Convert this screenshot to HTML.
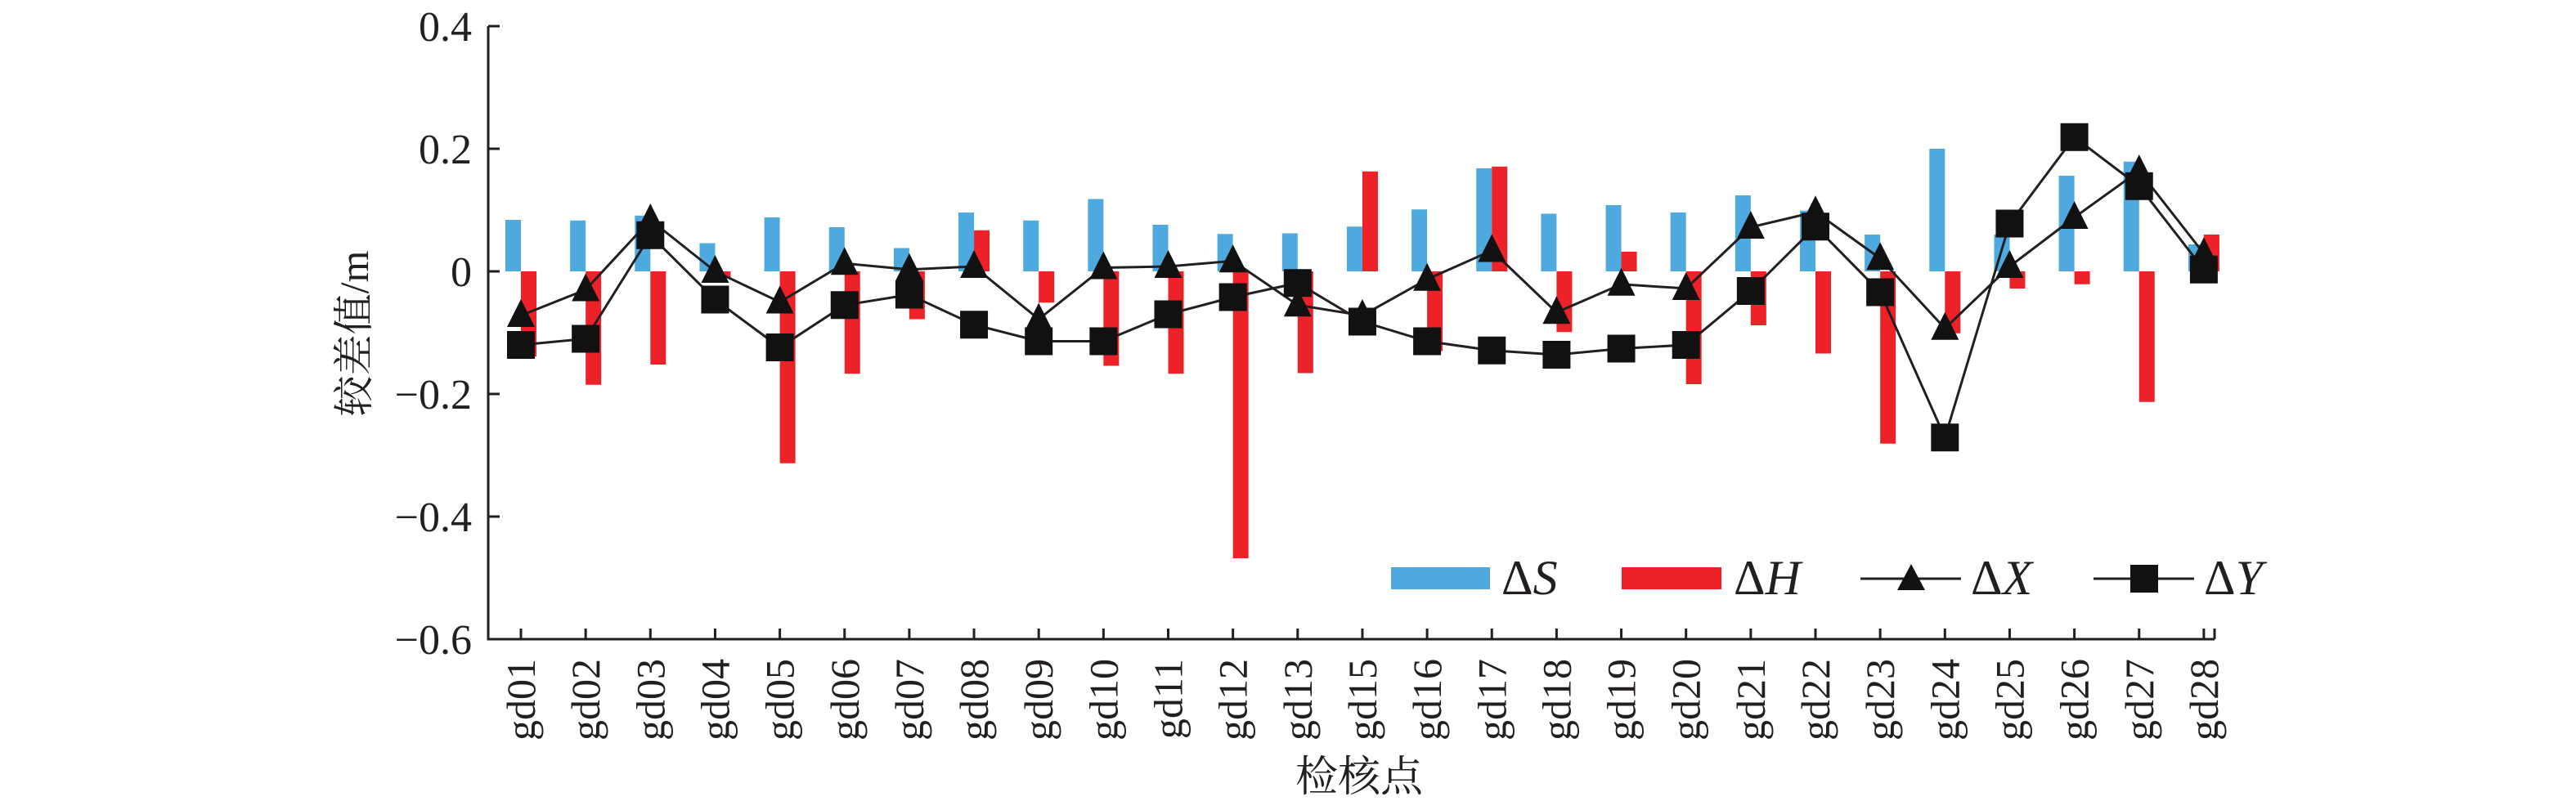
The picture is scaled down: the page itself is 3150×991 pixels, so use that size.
<!DOCTYPE html>
<html><head><meta charset="utf-8"><style>
html,body{margin:0;padding:0;background:#fff;}
svg{display:block;}
text{font-family:"Liberation Serif","Noto Serif CJK SC",serif;fill:#231f20;}
</style></head><body>
<svg id="chart" width="3150" height="991" viewBox="0 0 3150 991" xmlns="http://www.w3.org/2000/svg">
<g id="bars"></g>
<g id="lines"></g>
<g id="axes"></g>
<g id="legend">
  <rect x="1701" y="694" width="121" height="27" fill="#4ea9df"/>
  <text x="1836" y="727" font-size="60">Δ<tspan font-style="italic">S</tspan></text>
  <rect x="1983" y="694" width="122" height="27" fill="#ed2229"/>
  <text x="2120" y="727" font-size="60">Δ<tspan font-style="italic">H</tspan></text>
  <line x1="2275" y1="708" x2="2398" y2="708" stroke="#231f20" stroke-width="3"/>
  <polygon points="2337,690 2320,722 2354,722" fill="#111"/>
  <text x="2410" y="727" font-size="60">Δ<tspan font-style="italic">X</tspan></text>
  <line x1="2560" y1="708" x2="2683" y2="708" stroke="#231f20" stroke-width="3"/>
  <rect x="2605" y="691" width="34" height="34" fill="#111"/>
  <text x="2695" y="727" font-size="60">Δ<tspan font-style="italic">Y</tspan></text>
</g>
<text transform="translate(450,408) rotate(-90)" text-anchor="middle" font-size="50">较差值/m</text>
<text x="1662" y="968" text-anchor="middle" font-size="52">检核点</text>
</svg>
<script>
const categories = ["gd01","gd02","gd03","gd04","gd05","gd06","gd07","gd08","gd09","gd10","gd11","gd12","gd13","gd15","gd16","gd17","gd18","gd19","gd20","gd21","gd22","gd23","gd24","gd25","gd26","gd27","gd28"];
const dS = [0.084,0.083,0.091,0.046,0.088,0.072,0.038,0.096,0.083,0.118,0.076,0.061,0.062,0.073,0.101,0.168,0.094,0.108,0.096,0.124,0.099,0.060,0.200,0.060,0.156,0.179,0.044];
const dH = [-0.139,-0.185,-0.152,-0.010,-0.313,-0.167,-0.078,0.067,-0.051,-0.154,-0.167,-0.468,-0.166,0.163,-0.130,0.171,-0.099,0.032,-0.184,-0.088,-0.134,-0.281,-0.101,-0.028,-0.021,-0.213,0.060];
const dX = [-0.072,-0.030,0.084,0.000,-0.050,0.013,0.003,0.008,-0.078,0.006,0.008,0.017,-0.055,-0.072,-0.013,0.034,-0.067,-0.021,-0.028,0.072,0.097,0.021,-0.093,0.008,0.088,0.164,0.029];
const dY = [-0.120,-0.110,0.059,-0.046,-0.124,-0.055,-0.038,-0.087,-0.114,-0.114,-0.070,-0.042,-0.019,-0.082,-0.114,-0.129,-0.136,-0.126,-0.120,-0.032,0.073,-0.034,-0.271,0.078,0.219,0.139,0.003];
const yTicks = [0.4,0.2,0,-0.2,-0.4,-0.6];
const yTickLabels = ["0.4","0.2","0","\u22120.2","\u22120.4","\u22120.6"];

const NS="http://www.w3.org/2000/svg";
const X0=597, XEND=2708, Y_TOP=32, Y_BOT=782, YMAX=0.4, YMIN=-0.6;
const C0=637, STEP=79.15;
function xPos(i){return C0+i*STEP;}
function yPos(v){return Y_TOP+(YMAX-v)/(YMAX-YMIN)*(Y_BOT-Y_TOP);}
function mk(tag,attrs,parent){const e=document.createElementNS(NS,tag);for(const k in attrs)e.setAttribute(k,attrs[k]);parent.appendChild(e);return e;}

const bars=document.getElementById('bars'), lines=document.getElementById('lines'), axes=document.getElementById('axes');
const BW=19;
categories.forEach((c,i)=>{
  const x=xPos(i), y0=yPos(0);
  const ys=yPos(dS[i]);
  const b=mk('rect',{x:x-BW,y:Math.min(ys,y0),width:BW,height:Math.abs(ys-y0),fill:'#4ea9df'},bars);
  
  
  const yh=yPos(dH[i]);
  const r=mk('rect',{x:x,y:Math.min(yh,y0),width:BW,height:Math.abs(yh-y0),fill:'#ed2229'},bars);
  
  
});
function series(vals,name,marker){
  const pts=vals.map((v,i)=>xPos(i)+','+yPos(v)).join(' ');
  const pl=mk('polyline',{points:pts,fill:'none',stroke:'#231f20','stroke-width':3},lines);
  
  
  vals.forEach((v,i)=>{
    const x=xPos(i), y=yPos(v); let m;
    if(marker==='tri'){m=mk('polygon',{points:`${x},${y-20} ${x-17},${y+14} ${x+17},${y+14}`,fill:'#111'},lines);}
    else{m=mk('rect',{x:x-17,y:y-17,width:34,height:34,fill:'#111'},lines);}
    
    
  });
}
series(dX,'dx','tri');
series(dY,'dy','sq');

const ya=mk('path',{d:`M${X0},${Y_TOP} V${Y_BOT} H${XEND}`,fill:'none',stroke:'#231f20','stroke-width':3},axes);


yTicks.forEach((v,i)=>{
  const y=yPos(v);
  const t=mk('line',{x1:X0,y1:y,x2:X0+14,y2:y,stroke:'#231f20','stroke-width':3},axes);
  
  
  const l=mk('text',{x:577,y:y+18,'text-anchor':'end','font-size':52},axes);
  l.textContent=yTickLabels[i];
  
  
});
categories.forEach((c,i)=>{
  const x=xPos(i);
  const t=mk('line',{x1:x,y1:Y_BOT,x2:x,y2:Y_BOT-13,stroke:'#231f20','stroke-width':3},axes);
  
  
  const l=mk('text',{transform:`translate(${x+17},806) rotate(-90)`,'text-anchor':'end','font-size':50},axes);
  l.textContent=c;
  
  
});
const lastTick=mk('line',{x1:XEND,y1:Y_BOT,x2:XEND,y2:Y_BOT-13,stroke:'#231f20','stroke-width':3},axes);


</script>
</body></html>
